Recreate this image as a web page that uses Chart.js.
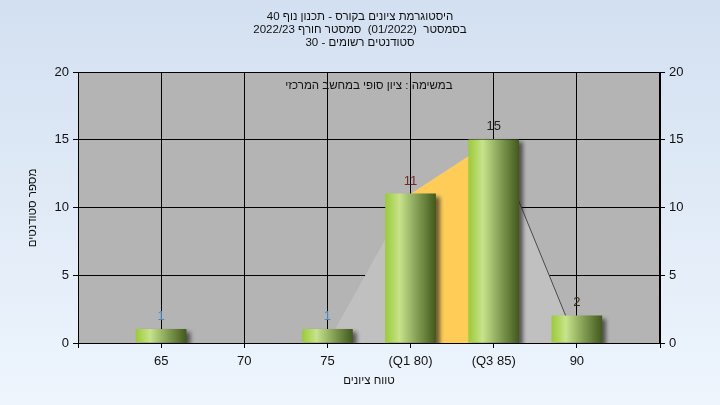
<!DOCTYPE html>
<html>
<head>
<meta charset="utf-8">
<script src="https://cdn.jsdelivr.net/npm/chart.js@4/dist/chart.umd.min.js"></script>
<style>
  html, body { margin: 0; padding: 0; }
  #chart { display: block; }
</style>
</head>
<body>
<canvas id="chart" width="720" height="405"></canvas>
<script>
// texts
let titleLines = [
  "היסטוגרמת ציונים בקורס - תכנון נוף 40",
  "בסמסטר  (01/2022)  סמסטר חורף 2022/23",
  "סטודנטים רשומים - 30",
];
let plotNote = "במשימה : ציון סופי במחשב המרכזי";
let xTitle = "טווח ציונים";
let yTitle = "מספר סטודנטים";

// data (empty slots at both ends keep the frame edges)
let categories = ["", "65", "70", "75", "(Q1 80)", "(Q3 85)", "90", ""];
let counts = [null, 1, 0, 1, 11, 15, 2, null];
let curve = [null, null, null, 0, 11, 15, 0, null];
let quartileBand = [null, null, null, null, 11, 15, null, null];
let labelColors = [null, "#4a86bd", null, "#4a86bd", "#7a2626", "#222222", "#3b2a10", null];
let yMax = 20;
let yStep = 5;

let font = "'Liberation Sans', Arial, sans-serif";

//background, plot area and frame
let backdrop = {
  id: "backdrop",
  beforeDraw(chart) {
    let c = chart.ctx;
    let g = c.createLinearGradient(0, 0, 0, chart.height);
    g.addColorStop(0, "#d3e0f1");
    g.addColorStop(1, "#eef5fd");
    c.save();
    c.fillStyle = g;
    c.fillRect(0, 0, chart.width, chart.height);
    let a = chart.chartArea;
    c.fillStyle = "#b4b4b4";
    c.fillRect(a.left, a.top, a.right - a.left, a.bottom - a.top);
    c.restore();
  },
  afterDatasetsDraw(chart) {
    let c = chart.ctx;
    let a = chart.chartArea;
    c.save();
    c.strokeStyle = "#000";
    c.lineWidth = 1;
    c.strokeRect(a.left + 0.5, a.top + 0.5, a.right - a.left - 1, a.bottom - a.top);
    c.restore();
  },
};

//shadow under the bars
let barShadow = {
  id: "barShadow",
  beforeDatasetDraw(chart, args) {
    if (args.index !== 0) return;
    let c = chart.ctx;
    c.save();
    c.shadowColor = "rgba(30,30,30,0.65)";
    c.shadowBlur = 4;
    c.shadowOffsetX = 4;
    c.shadowOffsetY = 3;
  },
  afterDatasetDraw(chart, args) {
    if (args.index !== 0) return;
    chart.ctx.restore();
  },
};

//value labels and hebrew texts
let texts = {
  id: "texts",
  afterDraw(chart) {
    let c = chart.ctx;
    c.save();
    c.textAlign = "center";
    c.textBaseline = "middle";
    c.font = "13px " + font;
    chart.getDatasetMeta(0).data.forEach((bar, i) => {
      if (!counts[i]) return;
      c.fillStyle = labelColors[i];
      c.fillText(String(counts[i]), bar.x, bar.y - 13);
    });

    c.direction = "rtl";
    c.fillStyle = "#111";
    c.font = "11.5px " + font;
    titleLines.forEach((t, i) => c.fillText(t, 360, 17 + i * 13));
    c.fillText(plotNote, 369, 86);
    c.fillText(xTitle, 369, 381);
    c.translate(33, 208);
    c.rotate(-Math.PI / 2);
    c.fillText(yTitle, 0, 0);
    c.restore();
  },
};

let canvas = document.getElementById("chart");

//horizontal green gradient across each bar
let barFill = (ctx) => {
  let chart = ctx.chart;
  if (ctx.dataIndex === undefined) return "#9bbf5a";
  if (!counts[ctx.dataIndex]) return "rgba(0,0,0,0)";
  let x = chart.scales.x.getPixelForValue(ctx.dataIndex);
  if (!isFinite(x)) return "#9bbf5a";
  let g = chart.ctx.createLinearGradient(x - 25, 0, x + 25, 0);
  g.addColorStop(0, "#9bcb38");
  g.addColorStop(0.28, "#c8e38c");
  g.addColorStop(0.62, "#86a056");
  g.addColorStop(1, "#425a1c");
  return g;
};

let myChart = new Chart(canvas, {
  type: "bar",
  data: {
    labels: categories,
    datasets: [
      {
        type: "bar",
        data: counts,
        backgroundColor: barFill,
        borderWidth: 0,
        barThickness: 50,
        yAxisID: "y",
        order: 0,
      },
      {
        type: "line",
        data: quartileBand,
        backgroundColor: "#ffcc58",
        borderColor: "rgba(0,0,0,0)",
        borderWidth: 0,
        pointRadius: 0,
        fill: "origin",
        tension: 0,
        yAxisID: "y",
        order: 1,
      },
      {
        type: "line",
        data: curve,
        backgroundColor: "#c0c0c0",
        borderWidth: 1,
        segment: {
          borderColor: (s) => (s.p0DataIndex === 5 ? "#4a4a4a" : "rgba(0,0,0,0)"),
        },
        pointRadius: 0,
        fill: "origin",
        tension: 0,
        yAxisID: "y",
        order: 2,
      },
    ],
  },
  plugins: [backdrop, barShadow, texts],
  options: {
    responsive: false,
    animation: false,
    layout: { padding: { top: 72, left: 0, right: 0, bottom: 0 } },
    plugins: {
      legend: { display: false },
      tooltip: { enabled: false },
    },
    scales: {
      x: {
        type: "category",
        offset: false,
        grid: { offset: false, color: "#000", tickLength: 5, tickColor: "#000" },
        border: { display: false },
        ticks: {
          color: "#111",
          font: { family: font, size: 13 },
          padding: 6,
          autoSkip: false,
          maxRotation: 0,
        },
        afterFit: (s) => { s.height = 62; },
      },
      y: {
        position: "left",
        min: 0,
        max: yMax,
        grid: { color: "#000", tickLength: 5, tickColor: "#000" },
        border: { display: false },
        ticks: { stepSize: yStep, color: "#111", font: { family: font, size: 13 }, padding: 4 },
        afterFit: (s) => { s.width = 78; },
      },
      y2: {
        position: "right",
        min: 0,
        max: yMax,
        grid: { drawOnChartArea: false, tickLength: 5, tickColor: "#000" },
        border: { display: false },
        ticks: { stepSize: yStep, color: "#111", font: { family: font, size: 13 }, padding: 4 },
        afterFit: (s) => { s.width = 60; },
      },
    },
  },
});
</script>
</body>
</html>
